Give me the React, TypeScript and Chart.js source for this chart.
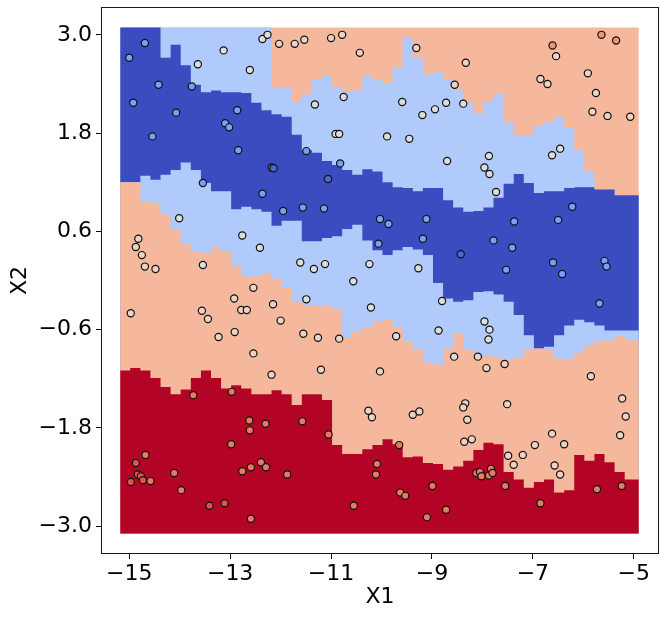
import React, { useEffect, useRef } from 'react';
import { Chart, registerables } from 'chart.js';

Chart.register(...registerables);

// ---- mesh grid (column left edges, last value = right edge of mesh) ----
const xEdges = [
  -15.18, -14.98, -14.78, -14.58, -14.38, -14.18, -13.98, -13.78, -13.58, -13.38,
  -13.18, -12.98, -12.78, -12.58, -12.38, -12.18, -11.98, -11.78, -11.58, -11.38,
  -11.18, -10.98, -10.78, -10.58, -10.38, -10.18, -9.98, -9.78, -9.58, -9.38,
  -9.18, -8.98, -8.78, -8.58, -8.38, -8.18, -7.98, -7.78, -7.58, -7.38,
  -7.18, -6.98, -6.78, -6.58, -6.38, -6.18, -5.98, -5.78, -5.58, -5.38,
  -5.18, -4.9,
];
const meshTop = 3.09;
const meshBottom = -3.09;

// ---- class boundaries per column (top -> bottom) ----
// b1: upper salmon -> light blue
const b1 = [
  3.09, 3.09, 3.09, 3.09, 3.09, 3.09, 3.09, 3.09, 3.09, 3.09, 3.09, 3.09, 3.09, 3.09, 3.09,
  2.36, 2.35, 2.18, 2.27, 2.45, 2.51, 2.36, 2.30, 2.32, 2.51, 2.45, 2.41, 2.60, 2.96, 2.72,
  2.52, 2.54, 2.45, 2.33, 2.17, 2.05, 2.18, 2.28, 1.94, 1.77, 1.78, 1.90, 1.94, 2.00, 1.86,
  1.59, 1.33, 1.11, 1.11, 1.04, 1.04,
];
// b2: light blue -> dark blue
const b2 = [
  3.09, 3.09, 3.09, 3.09, 2.72, 2.88, 2.63, 2.39, 2.30, 2.32, 2.30, 2.30, 2.29, 2.17, 2.08,
  2.03, 2.00, 1.78, 1.59, 1.56, 1.46, 1.41, 1.35, 1.29, 1.36, 1.33, 1.20, 1.14, 1.13, 1.09,
  1.13, 1.13, 0.98, 0.89, 0.84, 0.85, 0.89, 1.01, 1.18, 1.30, 1.19, 1.07, 1.09, 1.09, 1.13,
  1.14, 1.14, 1.11, 1.11, 1.04, 1.04,
];
// b3: dark blue -> lower light blue
const b3 = [
  1.20, 1.20, 1.28, 1.23, 1.29, 1.35, 1.44, 1.35, 1.19, 1.09, 1.09, 0.87, 0.90, 0.87, 0.84,
  0.67, 0.73, 0.73, 0.48, 0.48, 0.52, 0.54, 0.63, 0.68, 0.49, 0.37, 0.31, 0.37, 0.41, 0.38,
  0.31, -0.03, -0.22, -0.26, -0.24, -0.14, -0.13, -0.17, -0.26, -0.42, -0.67, -0.83, -0.81, -0.67, -0.55,
  -0.48, -0.51, -0.55, -0.61, -0.61, -0.61,
];
// b4: lower light blue -> salmon
const b4 = [
  1.20, 1.20, 0.96, 0.95, 0.81, 0.62, 0.45, 0.36, 0.34, 0.41, 0.35, 0.18, 0.05, 0.05, 0.09,
  0.02, -0.09, -0.26, -0.30, -0.30, -0.31, -0.36, -0.69, -0.63, -0.57, -0.50, -0.48, -0.58, -0.75, -0.85,
  -1.00, -1.03, -0.83, -0.64, -0.85, -0.91, -0.91, -0.94, -0.97, -0.94, -0.85, -0.83, -0.85, -0.95, -0.97,
  -0.88, -0.79, -0.75, -0.73, -0.68, -0.73,
];
// b5: salmon -> red
const b5 = [
  -1.10, -1.07, -1.10, -1.19, -1.30, -1.39, -1.33, -1.19, -1.10, -1.19, -1.32, -1.28, -1.32, -1.39, -1.39,
  -1.34, -1.39, -1.52, -1.39, -1.39, -1.46, -2.01, -2.12, -2.12, -2.06, -2.01, -1.94, -2.00, -2.16, -2.15,
  -2.23, -2.24, -2.31, -2.27, -2.20, -2.07, -1.98, -2.00, -2.34, -2.43, -2.53, -2.46, -2.43, -2.59, -2.56,
  -2.13, -2.20, -2.12, -2.22, -2.34, -2.43,
];

// ---- scatter points, grouped by fill colour ----
const bluePts = [
  [-14.69, 2.90], [-15.0, 2.72], [-14.42, 2.39], [-13.76, 2.37], [-14.92, 2.17], [-14.07, 2.05],
  [-12.86, 2.08], [-13.10, 1.92], [-13.02, 1.87], [-14.54, 1.76], [-12.84, 1.59], [-13.54, 1.19],
  [-12.36, 1.06], [-11.95, 0.85], [-11.49, 1.58], [-10.82, 1.43], [-11.56, 0.89], [-11.14, 0.88],
  [-10.03, 0.75], [-9.86, 0.69], [-9.11, 0.75], [-9.18, 0.51], [-10.06, 0.45], [-6.22, 0.90],
  [-7.37, 0.72], [-6.50, 0.74], [-7.78, 0.49], [-7.41, 0.40], [-6.60, 0.22], [-5.58, 0.24],
  [-5.54, 0.17], [-7.53, 0.13], [-6.42, 0.08], [-5.68, -0.28],
];
const darkBluePts = [[-12.18, 1.38], [-12.14, 1.37], [-11.06, 1.24], [-8.43, 0.32]];
const grayPts = [
  [-13.13, 2.81], [-13.64, 2.64], [-12.61, 2.57], [-12.36, 2.95], [-12.26, 3.0], [-8.72, 2.17],
  [-8.38, 2.16], [-8.94, 2.09], [-9.19, 2.02], [-9.59, 2.18], [-10.75, 2.24], [-11.32, 2.15],
  [-10.91, 1.79], [-10.84, 1.79], [-9.89, 1.76], [-9.45, 1.73], [-8.70, 1.46], [-7.87, 1.52],
  [-7.96, 1.38], [-7.86, 1.30], [-7.73, 1.08], [-6.62, 1.53], [-6.46, 1.61], [-14.01, 0.76],
  [-12.76, 0.55], [-12.41, 0.40], [-11.61, 0.22], [-11.34, 0.14], [-11.12, 0.20], [-10.24, 0.20],
  [-9.27, 0.15], [-10.56, -0.01], [-13.54, 0.19], [-11.49, -0.23], [-10.21, -0.33], [-8.80, -0.25],
  [-9.71, -0.68], [-8.87, -0.61], [-8.56, -0.93], [-7.96, -0.50], [-7.86, -0.60], [-7.88, -0.72],
];
const peachPts = [
  [-12.03, 2.89], [-11.72, 2.89], [-11.53, 2.94], [-11.0, 2.96], [-10.78, 3.0], [-10.43, 2.78],
  [-9.31, 2.84], [-8.33, 2.66], [-8.55, 2.39], [-6.54, 2.74], [-6.85, 2.46], [-6.71, 2.40],
  [-5.91, 2.53], [-5.75, 2.29], [-5.82, 2.06], [-5.52, 2.01], [-5.07, 2.0],
  [-14.82, 0.51], [-14.87, 0.41], [-14.75, 0.31], [-14.69, 0.17], [-14.48, 0.14], [-12.54, -0.09],
  [-12.92, -0.22], [-12.15, -0.29], [-12.78, -0.36], [-12.67, -0.36], [-13.56, -0.37], [-13.44, -0.47],
  [-14.97, -0.40], [-12.0, -0.49], [-12.91, -0.63], [-13.23, -0.69], [-12.54, -0.89], [-12.18, -1.15],
  [-11.55, -0.65], [-11.26, -0.70], [-10.84, -0.71], [-11.20, -1.09], [-10.03, -1.11], [-10.26, -1.59],
  [-10.19, -1.67], [-9.38, -1.64], [-9.25, -1.60], [-8.34, -1.50], [-8.38, -1.55], [-8.30, -1.70],
  [-8.36, -1.97], [-8.21, -1.94], [-8.09, -0.93], [-7.92, -1.07], [-7.56, -1.02], [-5.85, -1.17],
  [-7.51, -1.51], [-5.23, -1.44], [-5.16, -1.66], [-5.27, -1.89], [-6.62, -1.87], [-6.96, -2.01],
  [-6.38, -2.0], [-7.49, -2.14], [-7.20, -2.13], [-7.38, -2.25], [-6.57, -2.26], [-6.46, -2.37],
];
const orangePts = [[-5.64, 3.0], [-5.35, 2.93], [-6.61, 2.87]];
const redPts = [
  [-13.73, -1.40], [-12.97, -1.36], [-12.62, -1.71], [-12.30, -1.75], [-12.61, -1.83], [-12.98, -2.0],
  [-14.68, -2.13], [-12.39, -2.22], [-12.29, -2.28], [-12.59, -2.28], [-12.76, -2.33], [-14.11, -2.35],
  [-11.87, -2.37], [-14.58, -2.45], [-13.97, -2.56], [-12.59, -2.91], [-11.57, -1.72], [-11.05, -1.88],
  [-9.65, -2.01], [-10.09, -2.24], [-10.11, -2.37], [-8.99, -2.51], [-9.63, -2.59], [-9.53, -2.63],
  [-10.55, -2.75], [-8.72, -2.80], [-9.10, -2.89], [-8.12, -2.35], [-8.05, -2.34], [-8.02, -2.39],
  [-7.87, -2.38], [-7.83, -2.30], [-7.80, -2.35], [-7.55, -2.51], [-6.85, -2.72], [-5.73, -2.55],
  [-5.24, -2.51],
];
const darkRedPts = [
  [-14.87, -2.23], [-14.83, -2.37], [-14.77, -2.39], [-14.73, -2.44], [-14.97, -2.46],
  [-13.41, -2.75], [-13.11, -2.72],
];

// ---- axes ----
const xTicks = [-15, -13, -11, -9, -7, -5];
const yTicks = [-3.0, -1.8, -0.6, 0.6, 1.8, 3.0];
const xLimits = [-15.56, -4.5];
const yLimits = [-3.34, 3.34];

const C_DARK = '#3b4cc0';
const C_LIGHT = '#afcafb';
const C_SALMON = '#f6b89d';
const C_RED = '#b40426';

const FONT = 'DejaVu Sans';

function stepData(vals: number[]) {
  return xEdges.map((x, i) => ({ x, y: vals[Math.min(i, vals.length - 1)] }));
}

function region(vals: number[], color: string, order: number) {
  return {
    type: 'line' as const,
    data: stepData(vals),
    stepped: true,
    fill: { value: meshBottom },
    backgroundColor: color,
    borderColor: 'rgba(0,0,0,0)',
    borderWidth: 0,
    pointRadius: 0,
    order,
  };
}

function pts(list: number[][], color: string) {
  return {
    type: 'scatter' as const,
    data: list.map(([x, y]) => ({ x, y })),
    backgroundColor: color,
    borderColor: '#111111',
    borderWidth: 1.2,
    pointRadius: 3.6,
    order: 0,
  };
}

const fmt = (v: number, digits: number) => v.toFixed(digits).replace('-', '\u2212');

const framePlugin = {
  id: 'frame',
  afterDatasetsDraw(chart: any) {
    const { ctx, chartArea } = chart;
    ctx.save();
    ctx.strokeStyle = '#1a1a1a';
    ctx.lineWidth = 1;
    ctx.strokeRect(
      Math.round(chartArea.left) + 0.5,
      Math.round(chartArea.top) + 0.5,
      Math.round(chartArea.right - chartArea.left) - 1,
      Math.round(chartArea.bottom - chartArea.top) - 1
    );
    ctx.restore();
  },
};

export default function App() {
  const ref = useRef<HTMLCanvasElement | null>(null);

  useEffect(() => {
    if (!ref.current) return;
    const topLine = xEdges.map(() => meshTop);
    const chart = new Chart(ref.current, {
      type: 'scatter',
      data: {
        datasets: [
          pts(bluePts, '#7b9ff9'),
          pts(darkBluePts, '#4f69d9'),
          pts(grayPts, '#dcdddd'),
          pts(peachPts, '#eed2c3'),
          pts(orangePts, '#f39475'),
          pts(redPts, '#e97a5f'),
          pts(darkRedPts, '#d8564a'),
          region(b5, C_RED, 1),
          region(b4, C_SALMON, 2),
          region(b3, C_LIGHT, 3),
          region(b2, C_DARK, 4),
          region(b1, C_LIGHT, 5),
          region(topLine, C_SALMON, 6),
        ] as any,
      },
      options: {
        animation: false,
        responsive: false,
        events: [],
        layout: { padding: { top: 7, right: 6, left: 0, bottom: 0 } },
        plugins: { legend: { display: false }, tooltip: { enabled: false } },
        scales: {
          x: {
            type: 'linear',
            min: xLimits[0],
            max: xLimits[1],
            afterBuildTicks: (axis: any) => {
              axis.ticks = xTicks.map((value) => ({ value }));
            },
            afterFit: (scale: any) => {
              scale.height = 63;
              scale.paddingLeft = 0;
              scale.paddingRight = 0;
            },
            ticks: {
              autoSkip: false,
              maxRotation: 0,
              padding: 2,
              color: '#000',
              font: { family: FONT, size: 22 },
              callback: (v: any) => fmt(Number(v), 0),
            },
            grid: { display: true, drawOnChartArea: false, drawTicks: true, tickLength: 5, color: '#000', tickColor: '#000' },
            border: { display: false },
            title: { display: true, text: 'X1', color: '#000', font: { family: FONT, size: 22 }, padding: { top: 0, bottom: 7 } },
          },
          y: {
            type: 'linear',
            min: yLimits[0],
            max: yLimits[1],
            afterBuildTicks: (axis: any) => {
              axis.ticks = yTicks.map((value) => ({ value }));
            },
            afterFit: (scale: any) => {
              scale.width = 101;
              scale.paddingTop = 0;
              scale.paddingBottom = 0;
            },
            ticks: {
              autoSkip: false,
              padding: 4,
              color: '#000',
              font: { family: FONT, size: 22 },
              callback: (v: any) => fmt(Number(v), 1),
            },
            grid: { display: true, drawOnChartArea: false, drawTicks: true, tickLength: 5, color: '#000', tickColor: '#000' },
            border: { display: false },
            title: { display: true, text: 'X2', color: '#000', font: { family: FONT, size: 22 }, padding: { top: 7, bottom: 0 } },
          },
        },
      },
      plugins: [framePlugin],
    });
    return () => chart.destroy();
  }, []);

  return (
    <div style={{ position: 'absolute', left: 0, top: 0, width: 665, height: 617, background: '#fff' }}>
      <canvas ref={ref} width={665} height={617} />
    </div>
  );
}
